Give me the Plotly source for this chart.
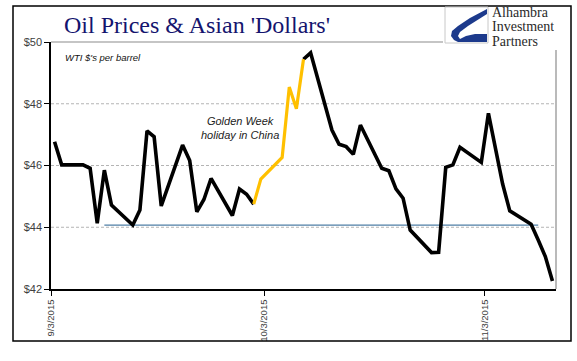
import pandas as pd
import plotly.graph_objects as go

# ---------------- data ----------------
DATES = ["2015-09-03", "2015-09-04", "2015-09-07", "2015-09-08", "2015-09-09",
         "2015-09-10", "2015-09-11", "2015-09-14", "2015-09-15", "2015-09-16",
         "2015-09-17", "2015-09-18", "2015-09-21", "2015-09-22", "2015-09-23",
         "2015-09-24", "2015-09-25", "2015-09-28", "2015-09-29", "2015-09-30",
         "2015-10-01", "2015-10-02", "2015-10-05", "2015-10-06", "2015-10-07",
         "2015-10-08", "2015-10-09", "2015-10-12", "2015-10-13", "2015-10-14",
         "2015-10-15", "2015-10-16", "2015-10-19", "2015-10-20", "2015-10-21",
         "2015-10-22", "2015-10-23", "2015-10-26", "2015-10-27", "2015-10-28",
         "2015-10-29", "2015-10-30", "2015-11-02", "2015-11-03", "2015-11-04",
         "2015-11-05", "2015-11-06", "2015-11-09", "2015-11-10", "2015-11-11",
         "2015-11-12"]
WTI_PRICES = [46.77, 46.02, 46.02, 45.91, 44.13,
              45.85, 44.72, 44.07, 44.56, 47.12,
              46.93, 44.69, 46.66, 46.16, 44.50,
              44.90, 45.58, 44.38, 45.24, 45.07,
              44.75, 45.56, 46.26, 48.54, 47.84,
              49.44, 49.65, 47.15, 46.69, 46.61,
              46.36, 47.31, 45.91, 45.83, 45.24,
              44.94, 43.91, 43.18, 43.19, 45.94,
              46.02, 46.59, 46.10, 47.69, 46.50,
              45.40, 44.53, 44.10, 43.59, 43.05,
              42.26]
GOLDEN_WEEK_START = "2015-10-01"
GOLDEN_WEEK_END = "2015-10-08"
SUPPORT_LEVEL = 44.07
SUPPORT_START = "2015-09-10"
SUPPORT_END = "2015-11-10"
X_TICK_DATES = ["2015-09-03", "2015-10-03", "2015-11-03"]
X_TICK_LABELS = ["9/3/2015", "10/3/2015", "11/3/2015"]
Y_TICKS = [42, 44, 46, 48, 50]
Y_TICK_LABELS = ["$42", "$44", "$46", "$48", "$50"]

# ---------------- figure ----------------
W, H = 577, 361
ML, MR, MT, MB = 51, 21, 42, 72
PW, PH = W - ML - MR, H - MT - MB


def px(x):
    return (x - ML) / PW


def py(y):
    return (H - MB - y) / PH


df = pd.DataFrame({"date": pd.to_datetime(DATES), "price": WTI_PRICES})
gs, ge = pd.Timestamp(GOLDEN_WEEK_START), pd.Timestamp(GOLDEN_WEEK_END)
before = df[df.date <= gs]
gold = df[(df.date >= gs) & (df.date <= ge)]
after = df[df.date >= ge]
half = pd.Timedelta(hours=12)

fig = go.Figure()
fig.add_trace(go.Scatter(
    x=[pd.Timestamp(SUPPORT_START), pd.Timestamp(SUPPORT_END)],
    y=[SUPPORT_LEVEL, SUPPORT_LEVEL], mode="lines",
    line=dict(color="#4F7FA6", width=1.3), hoverinfo="skip"))
for part in (before, after):
    fig.add_trace(go.Scatter(x=part.date, y=part.price, mode="lines",
                             line=dict(color="#000000", width=3.6)))
fig.add_trace(go.Scatter(x=gold.date, y=gold.price, mode="lines",
                         line=dict(color="#FFC000", width=3.2)))

shapes = []
for v in Y_TICKS[1:-1]:
    shapes.append(dict(type="line", xref="paper", yref="y", x0=0, x1=1, y0=v, y1=v,
                       line=dict(color="#B4B4B4", width=1, dash="3px,2px"), layer="below"))
shapes.append(dict(type="line", xref="paper", yref="paper", x0=0, x1=px(443), y0=1, y1=1,
                   line=dict(color="#8C8C8C", width=1.2)))
shapes.append(dict(type="line", xref="paper", yref="paper", x0=1, x1=1, y0=0, y1=py(50),
                   line=dict(color="#8C8C8C", width=1.2)))
# outer frame
shapes.append(dict(type="rect", xref="paper", yref="paper", x0=px(13), x1=px(571),
                   y0=py(341), y1=py(6), line=dict(color="#000000", width=1.5)))
# logo icon
shapes.append(dict(type="rect", xref="paper", yref="paper", x0=px(445), x1=px(488),
                   y0=py(43), y1=py(7), line=dict(color="#C8C8C8", width=1),
                   fillcolor="#FFFFFF"))


def path(points):
    s = "M {:.5f},{:.5f} ".format(px(points[0][0]), py(points[0][1]))
    for p in points[1:]:
        s += "L {:.5f},{:.5f} ".format(px(p[0]), py(p[1]))
    return s + "Z"


blue_pts = [(487, 9), (470, 18), (458, 26), (452, 31), (451, 36), (454, 40), (458, 42),
            (487, 42), (487, 34), (475, 34), (466, 36), (460, 39), (458, 36), (460, 32),
            (468, 26), (487, 14)]
shapes.append(dict(type="path", xref="paper", yref="paper", path=path(blue_pts),
                   fillcolor="#1C3A8C", line=dict(width=0)))

annotations = [
    dict(text="Oil Prices & Asian 'Dollars'", x=px(62), y=py(25), xanchor="left",
         yanchor="middle", showarrow=False, xref="paper", yref="paper",
         font=dict(family="Liberation Serif", size=24, color="#14146E")),
    dict(text="<i>WTI $'s per barrel</i>", x=px(63), y=py(57), xanchor="left",
         yanchor="middle", showarrow=False, xref="paper", yref="paper",
         font=dict(family="Liberation Sans", size=9.5, color="#111111")),
    dict(text="<i>Golden Week<br>holiday in China</i>", x=px(240), y=py(128),
         xanchor="center", yanchor="middle", showarrow=False, xref="paper", yref="paper",
         font=dict(family="Liberation Sans", size=11, color="#222222")),
]
for i, word in enumerate(["Alhambra", "Investment", "Partners"]):
    annotations.append(dict(text=word, x=px(491), y=py(12.5 + 14.5 * i), xanchor="left",
                            yanchor="middle", showarrow=False, xref="paper", yref="paper",
                            borderpad=0, height=13,
                            font=dict(family="Liberation Serif", size=14, color="#2A2A2A")))

fig.update_layout(
    width=W, height=H, margin=dict(l=ML, r=MR, t=MT, b=MB),
    paper_bgcolor="#FFFFFF", plot_bgcolor="#FFFFFF", showlegend=False,
    shapes=shapes, annotations=annotations,
    xaxis=dict(type="date", range=[df.date.iloc[0] - half, df.date.iloc[-1] + half],
               tickvals=[pd.Timestamp(d) - half for d in X_TICK_DATES],
               ticktext=X_TICK_LABELS, tickangle=-90, showgrid=False, zeroline=False,
               showline=True, linecolor="#000000", linewidth=1.5, ticks="outside",
               ticklen=5, tickcolor="#000000", tickwidth=1,
               tickfont=dict(family="Liberation Sans", size=9.5, color="#404040")),
    yaxis=dict(range=[Y_TICKS[0], Y_TICKS[-1]], tickvals=Y_TICKS, ticktext=Y_TICK_LABELS,
               showgrid=False, zeroline=False, showline=True, linecolor="#000000",
               linewidth=1.5, ticks="outside", ticklen=5, tickcolor="#000000", tickwidth=1,
               tickfont=dict(family="Liberation Sans", size=11, color="#404040")),
)

POST = (
    "document.body.style.margin='0';document.body.style.padding='0';"
    "document.body.style.overflow='hidden';"
)

fig.write_html("out.html", config={"displayModeBar": False}, post_script=POST)
